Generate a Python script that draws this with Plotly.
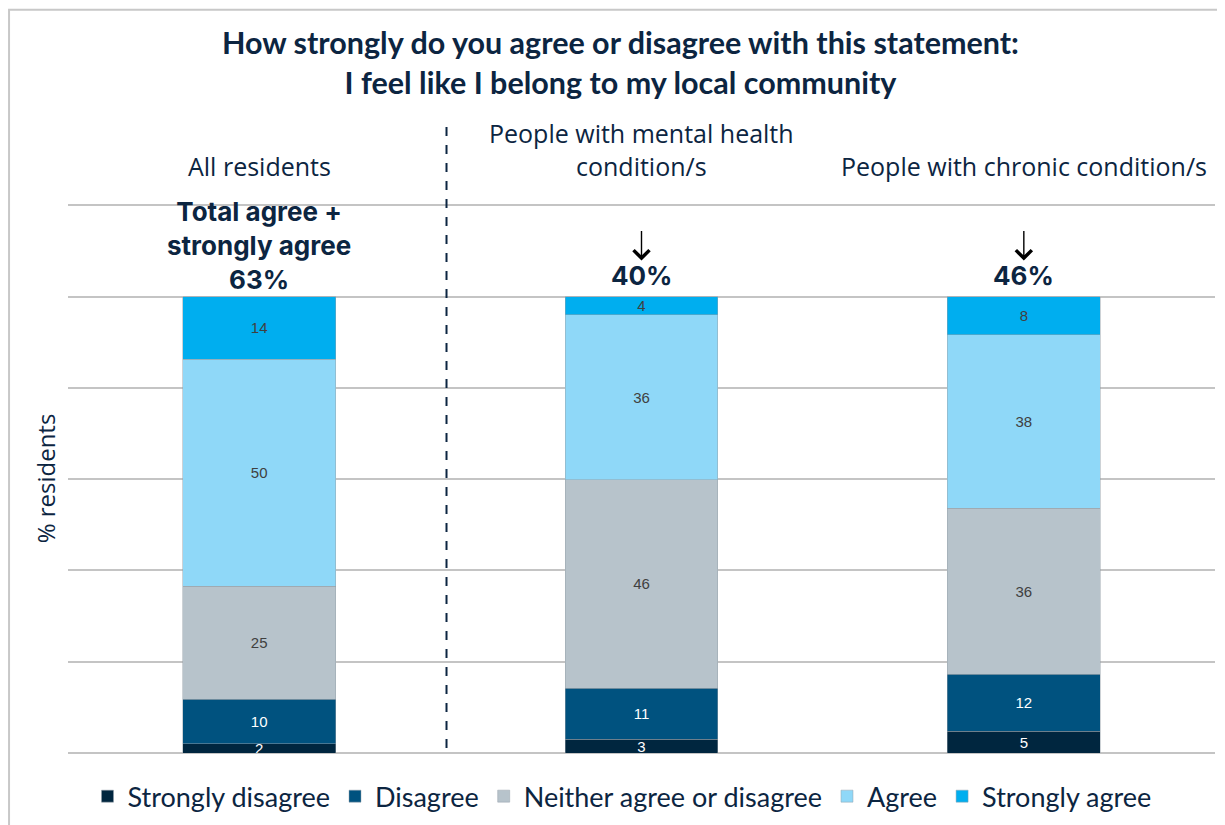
import plotly.graph_objects as go

categories = ["All residents", "People with mental health<br>condition/s", "People with chronic condition/s"]
series_names = ["Strongly disagree", "Disagree", "Neither agree or disagree", "Agree", "Strongly agree"]
# values (segment heights)
strongly_disagree = [2.0, 3.0, 4.8]
disagree = [9.8, 11.2, 12.5]
neither = [24.7, 45.7, 36.3]
agree = [49.8, 36.1, 38.1]
strongly_agree = [13.7, 4.0, 8.3]
# printed labels
strongly_disagree_lbl = ["2", "3", "5"]
disagree_lbl = ["10", "11", "12"]
neither_lbl = ["25", "46", "36"]
agree_lbl = ["50", "36", "38"]
strongly_agree_lbl = ["14", "4", "8"]
total_labels = ["Total agree +<br>strongly agree<br>63%", "40%", "46%"]

colors = ["#00263f", "#00527f", "#b7c3cb", "#8fd8f8", "#00aeef"]
text_colors = ["#ffffff", "#ffffff", "#404040", "#404040", "#404040"]
navy = "#0c2541"

xs = [0, 1, 2]
values = [strongly_disagree, disagree, neither, agree, strongly_agree]
labels = [strongly_disagree_lbl, disagree_lbl, neither_lbl, agree_lbl, strongly_agree_lbl]

fig = go.Figure()
for name, vals, lbls, col, tcol in zip(series_names, values, labels, colors, text_colors):
    fig.add_trace(go.Bar(
        x=xs, y=vals, name=name, text=lbls, texttemplate="%{text}",
        textposition="inside", insidetextanchor="middle", textangle=0,
        textfont=dict(family="Liberation Sans, Arial", size=15, color=tcol),
        marker=dict(color=col, line=dict(color="rgba(150,160,170,0.6)", width=0.8)),
        constraintext="none", hoverinfo="skip",
    ))

annotations = []
# category headers
for i, c in enumerate(categories):
    annotations.append(dict(x=i, y=1.035, xref="x", yref="paper", text=c, showarrow=False,
                            xanchor="center", yanchor="bottom",
                            font=dict(family="Open Sans", size=25, color=navy)))
# totals
annotations.append(dict(x=0, y=111.3, xref="x", yref="y", text=total_labels[0], showarrow=False,
                        xanchor="center", yanchor="middle",
                        font=dict(family="Inter", size=26, color=navy, weight="bold")))
for i in (1, 2):
    annotations.append(dict(x=i, y=104.6, xref="x", yref="y", text=total_labels[i], showarrow=False,
                            xanchor="center", yanchor="middle",
                            font=dict(family="Inter", size=26, color=navy, weight="bold")))
    annotations.append(dict(x=i, y=107.9, xref="x", yref="y", text="", showarrow=True,
                            ax=0, ay=-31, axref="pixel", ayref="pixel",
                            arrowhead=4, arrowsize=2.2, arrowwidth=1.4, arrowcolor="#000000",
                            standoff=0))

fig.update_layout(
    width=1225, height=825,
    paper_bgcolor="white", plot_bgcolor="white",
    margin=dict(l=60, r=18, t=196, b=75),
    barmode="stack", bargap=0.6,
    title=dict(text="How strongly do you agree or disagree with this statement:<br>I feel like I belong to my local community",
               x=0.5, xanchor="center", y=0.944, yanchor="middle", yref="container",
               font=dict(family="Lato", size=30.5, color=navy, weight="bold")),
    xaxis=dict(range=[-0.5, 2.5], showticklabels=False, showgrid=False, zeroline=False, showline=False,
               automargin=False),
    yaxis=dict(range=[0, 120.3], dtick=20, showticklabels=False, showgrid=True, gridcolor="#c4c4c4",
               gridwidth=2, zeroline=True, zerolinecolor="#c4c4c4", zerolinewidth=2,
               showline=False, automargin=False,
               title=dict(text="% residents", standoff=4,
                          font=dict(family="Open Sans", size=24, color=navy))),
    legend=dict(orientation="h", x=0.483, xanchor="center", y=-0.0794, yanchor="middle",
                font=dict(family="Lato", size=27, color=navy), traceorder="normal"),
    uniformtext=dict(minsize=15, mode="show"),
    annotations=annotations,
    shapes=[
        dict(type="line", xref="x", yref="paper", x0=0.49, x1=0.49, y0=0.009, y1=1.154,
             line=dict(color=navy, width=2, dash="dash")),
        dict(type="rect", xref="paper", yref="paper", x0=-0.0514, x1=1.05, y0=-0.3, y1=1.354,
             line=dict(color="#c8c8c8", width=2), layer="below"),
    ],
)

fig.write_html("out.html")
